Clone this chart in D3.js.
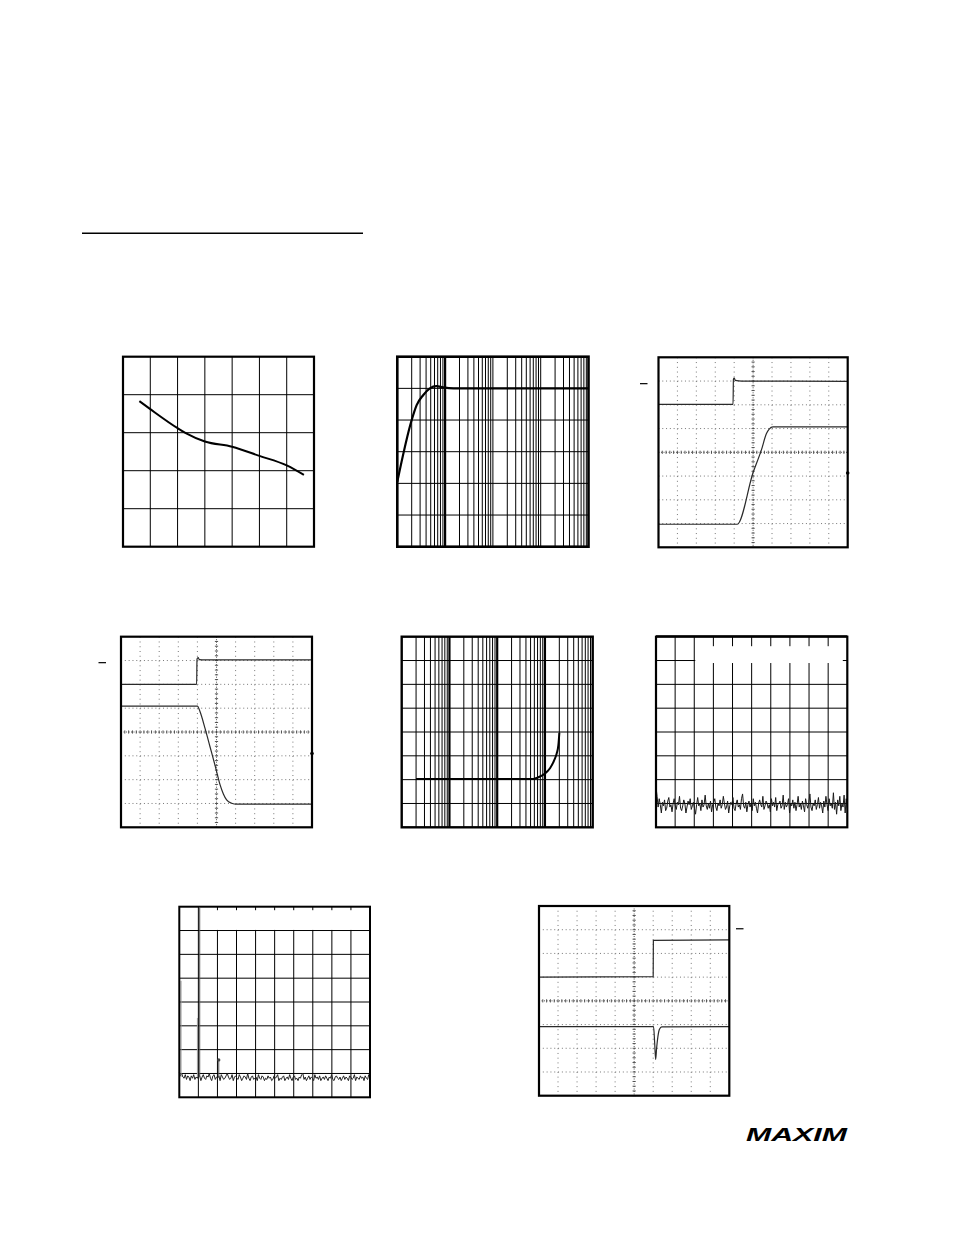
<!DOCTYPE html>
<html><head><meta charset="utf-8">
<script src="https://cdn.jsdelivr.net/npm/d3@7"></script>
<style>body{margin:0;background:#fff}svg{display:block}</style>
</head><body>
<script>
// ---------------- DATA ----------------
// Panel 1 (linear grid, 7 x 5 divisions)
const p1X = [0.6, 1, 2, 2.3, 3, 4, 5, 6, 6.63];
const p1Y = [3.83, 3.62, 3.12, 2.99, 2.77, 2.63, 2.39, 2.14, 1.89];

// Panel 2 (log x 10..100k, 6 divisions y)
const p2Freq = [10, 20, 25.4, 35, 48, 66, 91, 150, 100000];
const p2Val  = [2.05, 4.0, 4.47, 4.79, 5.0, 5.07, 5.03, 5.0, 5.0];

// Panel 3 (scope, 10 x 8 div, centre = 0)
const p3Time1 = [0, 3.94, 3.96, 4.0, 4.06, 4.4, 10];
const p3Val1  = [2.02, 2.02, 3.08, 3.12, 3.03, 3.0, 2.99];
const p3Time2 = [0, 4.16, 5.0, 5.44, 5.7, 5.85, 6.05, 10];
const p3Val2  = [-3.03, -3.03, -0.85, 0.1, 0.78, 0.98, 1.07, 1.07];

// Panel 4 (scope)
const p4Time1 = [0, 3.96, 3.98, 4.04, 4.1, 4.4, 10];
const p4Val1  = [2.0, 2.0, 3.06, 3.12, 3.04, 3.03, 3.03];
const p4Time2 = [0, 4.0, 4.14, 4.4, 4.66, 4.94, 5.18, 5.36, 5.53, 5.79, 6.06, 10];
const p4Val2  = [1.09, 1.09, 0.85, 0.15, -0.62, -1.45, -2.2, -2.6, -2.85, -2.99, -3.03, -3.03];

// Panel 5 (log x 10..100k, 8 divisions y)
const p5Freq = [20, 5715, 7278, 9727, 12764, 15740, 17620, 19100, 20045];
const p5Val  = [2.03, 2.03, 2.10, 2.24, 2.48, 2.83, 3.10, 3.45, 3.97];

// Panel 6 (FFT noise floor, 10 x 8 div)
const p6Noise = [1.7,1.3,0.85,1.2,0.95,0.6,1.05,0.9,1.15,0.7,0.8,1.1,1.25,0.85,0.95,0.65,1.0,1.2,0.9,0.75,
  1.05,0.95,1.3,0.8,0.7,0.9,1.15,1.0,0.6,0.85,1.1,0.95,1.2,0.75,0.9,1.05,0.8,0.55,0.95,1.25,
  0.9,1.0,0.7,1.15,0.85,0.95,1.35,0.9,0.75,1.0,0.8,1.1,0.65,0.95,1.05,1.2,0.85,0.7,1.0,0.9,
  1.15,0.8,0.95,1.3,1.0,0.75,0.85,1.1,0.6,0.9,1.05,0.95,1.25,0.8,0.7,1.0,1.15,0.85,0.95,0.75,
  1.2,1.4,0.9,0.8,1.05,0.65,0.95,1.1,0.85,1.0,0.7,1.2,0.9,1.05,0.8,0.6,1.0,1.15,0.95,0.85,
  1.3,0.75,0.9,1.1,1.0,0.8,0.95,0.65,1.2,0.9,1.05,0.85,1.25,0.7,0.95,1.0,1.1,0.8,0.9,1.35,
  0.75,1.05,0.85,0.95,1.2,0.6,1.0,0.9,1.15,0.8,1.05,0.7,0.95,1.3,0.85,1.0,0.75,1.1,0.9,0.65,
  1.2,0.95,0.8,1.05,1.4,0.85,0.7,1.0,0.9,1.15,0.75,0.95,1.25,0.8,1.05,0.9,0.6,1.1,0.85,1.3,
  0.95,0.7,1.2,0.9,1.0,0.8,1.45,0.75,1.05,0.55,1.15,0.9,1.3,0.7,1.0,0.85,1.35,0.6,1.2,0.8];

// Panel 7 (FFT with tones)
const p7Noise = [1.05,0.9,1.0,0.85,0.8,0.95,0.75,0.9,0.85,0.7,0.9,0.8,0.95,0.75,0.85,0.8,1.0,0.9,0.7,0.85,
  0.95,0.8,0.75,0.9,0.85,1.0,0.8,0.7,0.9,0.95,0.75,0.85,0.8,0.9,0.7,0.95,0.85,0.75,0.8,0.9,
  1.0,0.85,0.75,0.8,0.95,0.7,0.85,0.9,0.8,0.75,0.95,0.85,0.7,0.8,0.9,0.85,0.75,1.0,0.8,0.7,
  0.85,0.9,0.75,0.8,0.85,0.7,0.95,0.8,0.75,0.9,0.85,0.7,0.8,0.75,0.9,0.8,0.85,0.7,0.75,0.9,
  0.8,0.85,0.95,0.7,0.8,0.75,0.85,0.9,0.7,0.8,0.85,0.75,0.95,0.8,0.7,0.85,0.9,0.75,0.8,0.7,
  0.85,0.8,0.95,1.0,0.75,0.85,0.7,0.8,0.9,0.75,0.85,0.8,0.7,0.95,0.8,0.85,0.75,0.9,0.7,0.8,
  0.85,0.75,0.9,0.8,0.7,0.85,0.8,0.95,0.75,0.7,0.85,0.9,0.8,0.75,0.85,0.7,0.8,0.9,0.75,0.85,
  0.8,0.7,0.9,0.85,0.75,0.8,0.95,0.7,0.85,0.8,0.75,0.9,0.8,0.85,0.7,0.9,0.8,0.75,0.95,0.85];
const p7SpikeX   = [0.09, 0.95, 1.07, 2.07];
const p7SpikeTop = [4.89, 3.33, 7.95, 1.57];
const p7SpikeGray = [true, true, false, false];

// Panel 8 (scope)
const p8Time1 = [0, 6.0, 6.01, 10];
const p8Val1  = [1.0, 1.02, 2.55, 2.57];
const p8Time2 = [0, 6.02, 6.08, 6.13, 6.18, 6.25, 6.33, 6.45, 10];
const p8Val2  = [-1.09, -1.09, -1.8, -2.47, -2.0, -1.5, -1.2, -1.1, -1.09];

// ---------------- LAYOUT ----------------
const L = {
  p1:{x0:123, x1:314, y0:356.7, y1:546.7},
  p2:{x0:397.3, x1:588.5, y0:356.7, y1:546.7},
  p3:{x0:658.5, x1:847.7, y0:357.3, y1:547.3},
  p4:{x0:121, x1:312, y0:636.7, y1:827.3},
  p5:{x0:401.7, x1:592.7, y0:636.7, y1:827.3},
  p6:{x0:656, x1:847.3, y0:636.7, y1:827.3},
  p7:{x0:179.3, x1:370, y0:906.7, y1:1097.3},
  p8:{x0:539, x1:729.3, y0:906, y1:1095.7}
};

const svg = d3.select("body").append("svg").attr("width",954).attr("height",1235);
svg.append("rect").attr("width",954).attr("height",1235).attr("fill","#fff");

// section rule
svg.append("line").attr("x1",82).attr("x2",363).attr("y1",233.3).attr("y2",233.3)
  .attr("stroke","#000").attr("stroke-width",1.4);

function frame(g,p,sw){
  g.append("rect").attr("x",p.x0).attr("y",p.y0).attr("width",p.x1-p.x0).attr("height",p.y1-p.y0)
   .attr("fill","none").attr("stroke","#000").attr("stroke-width",sw);
}
function zip(a,b){return a.map((v,i)=>[v,b[i]]);}

// ---------- Panel 1 ----------
{
  const p=L.p1, g=svg.append("g");
  const x=d3.scaleLinear().domain([0,7]).range([p.x0,p.x1]);
  const y=d3.scaleLinear().domain([0,5]).range([p.y1,p.y0]);
  d3.range(1,7).forEach(i=>g.append("line").attr("x1",x(i)).attr("x2",x(i)).attr("y1",p.y0).attr("y2",p.y1).attr("stroke","#000").attr("stroke-width",1));
  d3.range(1,5).forEach(i=>g.append("line").attr("y1",y(i)).attr("y2",y(i)).attr("x1",p.x0).attr("x2",p.x1).attr("stroke","#000").attr("stroke-width",1));
  frame(g,p,2.2);
  g.append("path").datum(zip(p1X,p1Y)).attr("fill","none").attr("stroke","#000").attr("stroke-width",2)
   .attr("d",d3.line().x(d=>x(d[0])).y(d=>y(d[1])).curve(d3.curveMonotoneX));
}

// ---------- log grid helper ----------
function logGrid(g,p,x,y,rows,thickDecades){
  [10,100,1000,10000].forEach(dec=>{
    d3.range(1,10).forEach(m=>{
      const v=dec*m; if(v===10) return;
      const thick = (m===1 && thickDecades.includes(v));
      g.append("line").attr("x1",x(v)).attr("x2",x(v)).attr("y1",p.y0).attr("y2",p.y1)
       .attr("stroke","#000").attr("stroke-width",thick?2.2:1);
    });
  });
  d3.range(1,rows).forEach(i=>g.append("line").attr("y1",y(i)).attr("y2",y(i)).attr("x1",p.x0).attr("x2",p.x1).attr("stroke","#000").attr("stroke-width",1));
}

// ---------- Panel 2 ----------
{
  const p=L.p2, g=svg.append("g");
  const x=d3.scaleLog().domain([10,100000]).range([p.x0,p.x1]);
  const y=d3.scaleLinear().domain([0,6]).range([p.y1,p.y0]);
  logGrid(g,p,x,y,6,[100]);
  frame(g,p,2.6);
  g.append("path").datum(zip(p2Freq,p2Val)).attr("fill","none").attr("stroke","#000").attr("stroke-width",2.2)
   .attr("d",d3.line().x(d=>x(d[0])).y(d=>y(d[1])).curve(d3.curveMonotoneX));
}

// ---------- Panel 5 ----------
{
  const p=L.p5, g=svg.append("g");
  const x=d3.scaleLog().domain([10,100000]).range([p.x0,p.x1]);
  const y=d3.scaleLinear().domain([0,8]).range([p.y1,p.y0]);
  logGrid(g,p,x,y,8,[100,1000,10000]);
  frame(g,p,2.4);
  g.append("path").datum(zip(p5Freq,p5Val)).attr("fill","none").attr("stroke","#000").attr("stroke-width",2)
   .attr("d",d3.line().x(d=>x(d[0])).y(d=>y(d[1])).curve(d3.curveMonotoneX));
}

// ---------- scope grid helper ----------
function scopeGrid(g,p,x,y){
  const mx=(x(1)-x(0))/5, my=(y(0)-y(1))/5;
  d3.range(1,10).forEach(i=>{ if(i===5) return;
    g.append("line").attr("x1",x(i)).attr("x2",x(i)).attr("y1",p.y0).attr("y2",p.y1)
     .attr("stroke","#777").attr("stroke-width",1).attr("stroke-dasharray",`1,${(my-1).toFixed(2)}`);
  });
  d3.range(-3,4).forEach(j=>{ if(j===0) return;
    g.append("line").attr("y1",y(j)).attr("y2",y(j)).attr("x1",p.x0).attr("x2",p.x1)
     .attr("stroke","#777").attr("stroke-width",1).attr("stroke-dasharray",`1,${(mx-1).toFixed(2)}`);
  });
  g.append("line").attr("x1",x(5)).attr("x2",x(5)).attr("y1",p.y0).attr("y2",p.y1)
   .attr("stroke","#555").attr("stroke-width",1).attr("stroke-dasharray","1,1.5");
  g.append("line").attr("y1",y(0)).attr("y2",y(0)).attr("x1",p.x0).attr("x2",p.x1)
   .attr("stroke","#555").attr("stroke-width",1).attr("stroke-dasharray","1,1.5");
  d3.range(0,50).forEach(k=>{
    const xv=x(k/5);
    g.append("line").attr("x1",xv).attr("x2",xv).attr("y1",y(0)-1.6).attr("y2",y(0)+1.6).attr("stroke","#444").attr("stroke-width",0.9);
  });
  d3.range(0,40).forEach(k=>{
    const yv=y(-4+k/5);
    g.append("line").attr("y1",yv).attr("y2",yv).attr("x1",x(5)-1.6).attr("x2",x(5)+1.6).attr("stroke","#444").attr("stroke-width",0.9);
  });
}
function scopePanel(p,traces,leftMark,rightMark){
  const g=svg.append("g");
  const x=d3.scaleLinear().domain([0,10]).range([p.x0,p.x1]);
  const y=d3.scaleLinear().domain([-4,4]).range([p.y1,p.y0]);
  scopeGrid(g,p,x,y);
  traces.forEach(t=>{
    g.append("path").datum(zip(t[0],t[1])).attr("fill","none").attr("stroke","#2a2a2a").attr("stroke-width",1.2)
     .attr("d",d3.line().x(d=>x(d[0])).y(d=>y(d[1])).curve(d3.curveMonotoneX));
  });
  frame(g,p,2.2);
  if(leftMark!=null){
    const yy=y(leftMark[1]);
    g.append("line").attr("x1",leftMark[0]).attr("x2",leftMark[0]+7.5).attr("y1",yy).attr("y2",yy).attr("stroke","#000").attr("stroke-width",1.2);
  }
  if(rightMark!=null){
    g.append("circle").attr("cx",p.x1).attr("cy",y(rightMark)).attr("r",1.8).attr("fill","#000");
  }
}

scopePanel(L.p3,[[p3Time1,p3Val1],[p3Time2,p3Val2]],[640,2.89],-0.87);
scopePanel(L.p4,[[p4Time1,p4Val1],[p4Time2,p4Val2]],[98.5,2.91],-0.9);
scopePanel(L.p8,[[p8Time1,p8Val1],[p8Time2,p8Val2]],[736,3.04],null);

// ---------- FFT panels ----------
function fftGrid(g,p,x,y,blank){
  d3.range(1,10).forEach(i=>g.append("line").attr("x1",x(i)).attr("x2",x(i)).attr("y1",p.y0).attr("y2",p.y1).attr("stroke","#000").attr("stroke-width",1));
  d3.range(1,8).forEach(j=>g.append("line").attr("y1",y(j)).attr("y2",y(j)).attr("x1",p.x0).attr("x2",p.x1).attr("stroke","#000").attr("stroke-width",1));
  g.append("rect").attr("x",blank[0]).attr("y",blank[1]).attr("width",blank[2]-blank[0]).attr("height",blank[3]-blank[1]).attr("fill","#fff");
}
// Panel 6
{
  const p=L.p6, g=svg.append("g");
  const x=d3.scaleLinear().domain([0,10]).range([p.x0,p.x1]);
  const y=d3.scaleLinear().domain([0,8]).range([p.y1,p.y0]);
  fftGrid(g,p,x,y,[x(2)+1,p.y0+9.5,p.x1-4.5,y(7)+2.5]);
  const n=p6Noise.length;
  g.append("path").datum(p6Noise).attr("fill","none").attr("stroke","#1a1a1a").attr("stroke-width",1)
   .attr("d",d3.line().x((d,i)=>x(i*10/(n-1))).y(d=>y(d)));
  frame(g,p,2.2);
  g.append("line").attr("x1",p.x0).attr("x2",p.x1).attr("y1",p.y0-0.5).attr("y2",p.y0-0.5).attr("stroke","#000").attr("stroke-width",2);
}
// Panel 7
{
  const p=L.p7, g=svg.append("g");
  const x=d3.scaleLinear().domain([0,10]).range([p.x0,p.x1]);
  const y=d3.scaleLinear().domain([0,8]).range([p.y1,p.y0]);
  fftGrid(g,p,x,y,[x(1)+2,p.y0+3.5,p.x1-1.5,y(7)-0.6]);
  const n=p7Noise.length;
  g.append("path").datum(p7Noise).attr("fill","none").attr("stroke","#222").attr("stroke-width",1)
   .attr("d",d3.line().x((d,i)=>x(i*10/(n-1))).y(d=>y(d)));
  p7SpikeX.forEach((sx,i)=>{
    g.append("line").attr("x1",x(sx)).attr("x2",x(sx)).attr("y1",y(0.85)).attr("y2",y(p7SpikeTop[i]))
     .attr("stroke",p7SpikeGray[i]?"#999":"#555").attr("stroke-width",1);
  });
  g.append("circle").attr("cx",x(p7SpikeX[3])).attr("cy",y(p7SpikeTop[3])).attr("r",1.6).attr("fill","#444");
  frame(g,p,2);
}

// logo
svg.append("text").attr("x",746).attr("y",1141).attr("font-family","Liberation Sans, Arial, sans-serif")
  .attr("font-weight","900").attr("font-style","italic").attr("font-size",18)
  .attr("textLength",101).attr("lengthAdjust","spacingAndGlyphs").attr("fill","#000").text("MAXIM");
</script>
</body></html>
